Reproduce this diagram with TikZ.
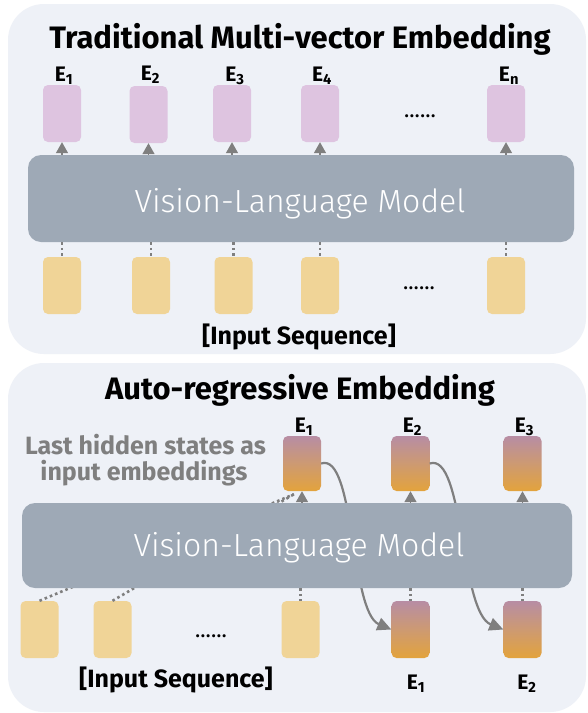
\documentclass[tikz,border=0pt]{standalone}
\usepackage{fontspec}
\setmainfont{Fira Sans}
\newfontfamily\lightfont{Fira Sans Light}
\usetikzlibrary{arrows.meta,calc}

\definecolor{panelbg}{HTML}{EEF1F7}
\definecolor{vlmgray}{HTML}{9EA9B6}
\definecolor{tokpurple}{HTML}{DEC4E0}
\definecolor{tokyellow}{HTML}{F0D497}
\definecolor{conngray}{HTML}{7F7F7F}
\definecolor{gradtop}{HTML}{B78DA4}
\definecolor{gradmid}{HTML}{CD9A72}
\definecolor{gradbot}{HTML}{E3A33C}

\tikzset{
  panel/.style={fill=panelbg, draw=none, rounded corners=36pt},
  vlm/.style={fill=vlmgray, draw=none, rounded corners=13pt, text=white,
    font=\lightfont\fontsize{32}{36}\selectfont},
  tok/.style={draw=none, rounded corners=5pt, minimum width=38pt, minimum height=57pt, inner sep=0pt},
  outtok/.style={tok, fill=tokpurple},
  intok/.style={tok, fill=tokyellow},
  gradtok/.style={tok, top color=gradtop, bottom color=gradbot, middle color=gradmid},
  title/.style={font=\bfseries\fontsize{31}{34}\selectfont, anchor=base, inner sep=0pt},
  elabel/.style={font=\bfseries\fontsize{21}{23}\selectfont, anchor=base, inner sep=0pt},
  seqlabel/.style={font=\bfseries\fontsize{25}{28}\selectfont, anchor=base, inner sep=0pt},
  graynote/.style={font=\bfseries\fontsize{25}{28}\selectfont, text=conngray, anchor=base, inner sep=0pt},
  ellip/.style={font=\fontsize{22}{24}\selectfont, inner sep=0pt},
  uparrow/.style={draw=conngray, line width=1.5pt, -{Triangle[width=12pt,length=11pt]}},
  dotline/.style={draw=conngray, line width=2.6pt, dash pattern=on 2.6pt off 3pt},
  curvearrow/.style={draw=conngray, line width=2.2pt, -{Triangle[width=13pt,length=14pt]}}
}

\begin{document}
\begin{tikzpicture}[x=1pt,y=-1pt]
\useasboundingbox (0,0) rectangle (588,713);
\fill[white] (0,0) rectangle (588,713);

% ---------------- top panel ----------------
\node[panel, minimum width=578pt, minimum height=350pt] (p1) at (297,179) {};
\node[title] (t1title) at (300,48) {Traditional Multi-vector Embedding};

\node[vlm, minimum width=546pt, minimum height=87pt] (vlm1) at (301,198.5) {};
\node[vlm, anchor=base] (vlm1text) at (300,212) {Vision-Language Model};

\node[outtok] (o1) at (62,113.5) {};
\node[outtok] (o2) at (148.5,114.5) {};
\node[outtok] (o3) at (232,113.5) {};
\node[outtok] (o4) at (320,113.5) {};
\node[outtok] (on) at (506,113.5) {};

\node[elabel] (lo1) at ($(o1.north)+(2,-3)$) {E\textsubscript{1}};
\node[elabel] (lo2) at ($(o2.north)+(2,-5)$) {E\textsubscript{2}};
\node[elabel] (lo3) at ($(o3.north)+(3,-3)$) {E\textsubscript{3}};
\node[elabel] (lo4) at ($(o4.north)+(2,-3)$) {E\textsubscript{4}};
\node[elabel] (lon) at ($(on.north)+(3,-3)$) {E\textsubscript{n}};

\node[ellip] (dots1) at (420,116) {......};

\node[intok] (i1) at (62,285.5) {};
\node[intok] (i2) at (151,285.5) {};
\node[intok] (i3) at (233.5,285.5) {};
\node[intok] (i4) at (320,285.5) {};
\node[intok] (in) at (506,285.5) {};
\node[ellip] (dots2) at (419,288) {......};

\node[seqlabel] (seq1) at (299,344) {[Input Sequence]};

\foreach \t in {o1,o2,o3,o4,on}
  \draw[uparrow] (\t.south |- vlm1.north) -- (\t.south);
\foreach \t in {i1,i2,i3,i4,in}
  \draw[dotline] (\t.north |- vlm1.south) -- (\t.north);

% ---------------- bottom panel ----------------
\node[panel, minimum width=578pt, minimum height=349pt] (p2) at (297,537.5) {};
\node[title] (t2title) at (300,399) {Auto-regressive Embedding};

\node[graynote] (note1) at (145.5,454) {Last hidden states as};
\node[graynote] (note2) at (144,480) {input embeddings};

\node[gradtok, minimum height=55pt] (g1) at (302,463.5) {};
\node[gradtok, minimum height=55pt] (g2) at (410.5,463.5) {};
\node[gradtok, minimum height=55pt] (g3) at (522.5,463.5) {};

\node[elabel] (lg1) at ($(g1.north)+(2,-3)$) {E\textsubscript{1}};
\node[elabel] (lg2) at ($(g2.north)+(2,-3)$) {E\textsubscript{2}};
\node[elabel] (lg3) at ($(g3.north)+(2,-3)$) {E\textsubscript{3}};

\node[intok] (j1) at (39.5,629.5) {};
\node[intok] (j2) at (112.5,629.5) {};
\node[intok] (j3) at (300.5,629.5) {};
\node[ellip] (dots3) at (211,636) {......};

\node[gradtok] (h1) at (410.5,629.5) {};
\node[gradtok] (h2) at (522.5,629.5) {};

\node[seqlabel] (seq2) at (176,687) {[Input Sequence]};
\node[elabel] (lh1) at (416,689) {E\textsubscript{1}};
\node[elabel] (lh2) at (527,689) {E\textsubscript{2}};

\coordinate (fb) at ($(g1.south)+(-8,3)$);
% connectors passing behind the model
\draw[dotline] (j1.north) -- (fb);
\draw[dotline] (j2.north) -- (fb);
\draw[curvearrow] (g1.east) .. controls (355,452) and (350,612) .. (h1.west);
\draw[curvearrow] (g2.east) .. controls (464,452) and (460,612) .. (h2.west);

\node[vlm, minimum width=550pt, minimum height=85pt] (vlm2) at (297,545.5) {};
\node[vlm, anchor=base] (vlm2text) at (299,556) {Vision-Language Model};

\foreach \t in {g1,g2,g3}
  \draw[uparrow] (\t.south |- vlm2.north) -- (\t.south);
\foreach \t in {j3,h1,h2}
  \draw[dotline] (\t.north |- vlm2.south) -- (\t.north);

\end{tikzpicture}
\end{document}
